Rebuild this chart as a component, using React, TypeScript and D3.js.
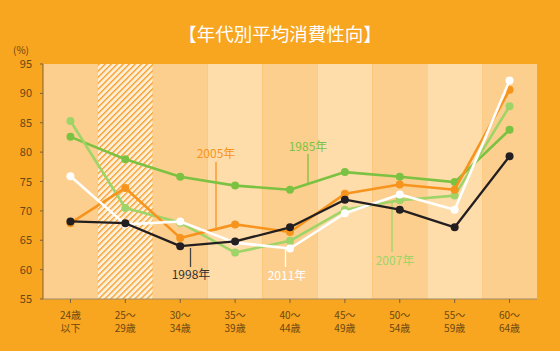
import React from "react";
import * as d3 from "d3";

const categories = ["24歳\n以下", "25〜\n29歳", "30〜\n34歳", "35〜\n39歳", "40〜\n44歳", "45〜\n49歳", "50〜\n54歳", "55〜\n59歳", "60〜\n64歳"];
const yTicks = [55, 60, 65, 70, 75, 80, 85, 90, 95];

const s1985 = [82.6, 78.8, 75.8, 74.3, 73.6, 76.6, 75.8, 74.9, 83.8];
const s1998 = [68.2, 67.9, 64.0, 64.8, 67.2, 71.9, 70.2, 67.2, 79.3];
const s2005 = [67.9, 73.9, 65.4, 67.7, 66.4, 72.9, 74.5, 73.6, 90.6];
const s2007 = [85.3, 70.5, 68.0, 62.9, 64.9, 70.2, 71.8, 72.6, 87.8];
const s2011 = [75.9, 67.7, 68.2, 64.6, 63.6, 69.6, 72.8, 70.2, 92.2];

const seriesNames = ["1985年", "1998年", "2005年", "2007年", "2011年"];

const W = 560, H = 351;
const left = 43, right = 537, top = 64, bottom = 299;

export default function App() {
  const x = d3.scaleBand<number>().domain(d3.range(categories.length)).range([left, right]).padding(0);
  const y = d3.scaleLinear().domain([55, 95]).range([bottom, top]);
  const cx = (i: number) => (x(i) as number) + x.bandwidth() / 2;
  const line = d3.line<number>().x((_, i) => cx(i)).y((v) => y(v));

  const series = [
    { name: seriesNames[0], data: s1985, color: "#7CC242", w: 2.6 },
    { name: seriesNames[3], data: s2007, color: "#9ED468", w: 2.6 },
    { name: seriesNames[2], data: s2005, color: "#F7941D", w: 2.6 },
    { name: seriesNames[4], data: s2011, color: "#FFFFFF", w: 2.6 },
    { name: seriesNames[1], data: s1998, color: "#231F20", w: 2.3 },
  ];

  const font = "'Noto Sans CJK JP', 'Noto Sans', sans-serif";
  const bandFill = (i: number) => (i === 1 ? "url(#hatch)" : [0, 2, 4, 6, 8].includes(i) ? "#FDCF8E" : "#FEDDAA");

  const labels = [
    { text: seriesNames[1], x: 191, y: 279, lx: 190.5, y1: 248, y2: 267, color: "#333333", lc: "#444444" },
    { text: seriesNames[2], x: 216, y: 158, lx: 216, y1: 162, y2: 231, color: "#F7941D", lc: "#F7941D" },
    { text: seriesNames[0], x: 308, y: 151, lx: 308, y1: 154, y2: 184, color: "#7CC242", lc: "#7CC242" },
    { text: seriesNames[4], x: 287, y: 280, lx: 285.5, y1: 247, y2: 267, color: "#FFFFFF", lc: "#FFFFFF" },
    { text: seriesNames[3], x: 395, y: 265, lx: 392, y1: 202, y2: 252, color: "#9ED468", lc: "#9ED468" },
  ];

  return (
    <svg width={W} height={H} style={{ position: "absolute", left: 0, top: 0 }} fontFamily={font}>
      <defs>
        <pattern id="hatch" patternUnits="userSpaceOnUse" width="4.25" height="6" patternTransform="rotate(45)">
          <rect width="4.25" height="6" fill="#FEF0D8" />
          <rect x="0" y="0" width="1.4" height="6" fill="#F8A233" />
        </pattern>
      </defs>
      <rect width={W} height={H} fill="#F8A51F" />
      <text x={280} y={41} textAnchor="middle" fill="#FFFFFF" fontSize={18.5}>【年代別平均消費性向】</text>
      <text x={21} y={54} textAnchor="middle" fill="#6B4712" fontSize={10}>(%)</text>

      {categories.map((_, i) => (
        <rect key={i} x={x(i) as number} y={top} width={x.bandwidth()} height={bottom - top} fill={bandFill(i)} />
      ))}

      <line x1={left} x2={left} y1={top} y2={bottom} stroke="#7A6242" strokeWidth={1} />
      {yTicks.map((t) => (
        <g key={t}>
          <line x1={left - 3} x2={left} y1={y(t)} y2={y(t)} stroke="#7A6242" />
          <text x={32} y={y(t) + 4} textAnchor="end" fill="#6B4712" fontSize={11}>{t}</text>
        </g>
      ))}
      <line x1={left} x2={right} y1={bottom} y2={bottom} stroke="#9C8A6A" strokeWidth={1} />
      {categories.map((c, i) => (
        <g key={i}>
          <line x1={cx(i)} x2={cx(i)} y1={bottom} y2={bottom + 4} stroke="#7A6242" />
          {c.split("\n").map((ln, k) => (
            <text key={k} x={cx(i)} y={319 + k * 13} textAnchor="middle" fill="#6B4712" fontSize={10}>{ln}</text>
          ))}
        </g>
      ))}

      {labels.map((l) => (
        <line key={"l" + l.text} x1={l.lx} x2={l.lx} y1={l.y1} y2={l.y2} stroke={l.lc} strokeWidth={1.3} />
      ))}

      {series.map((s) => (
        <g key={s.name}>
          <path d={line(s.data) || ""} fill="none" stroke={s.color} strokeWidth={s.w} strokeLinejoin="round" />
          {s.data.map((v, i) => (
            <circle key={i} cx={cx(i)} cy={y(v)} r={4} fill={s.color} />
          ))}
        </g>
      ))}

      {labels.map((l) => (
        <text key={"t" + l.text} x={l.x} y={l.y} textAnchor="middle" fill={l.color} fontSize={12}>{l.text}</text>
      ))}
    </svg>
  );
}
